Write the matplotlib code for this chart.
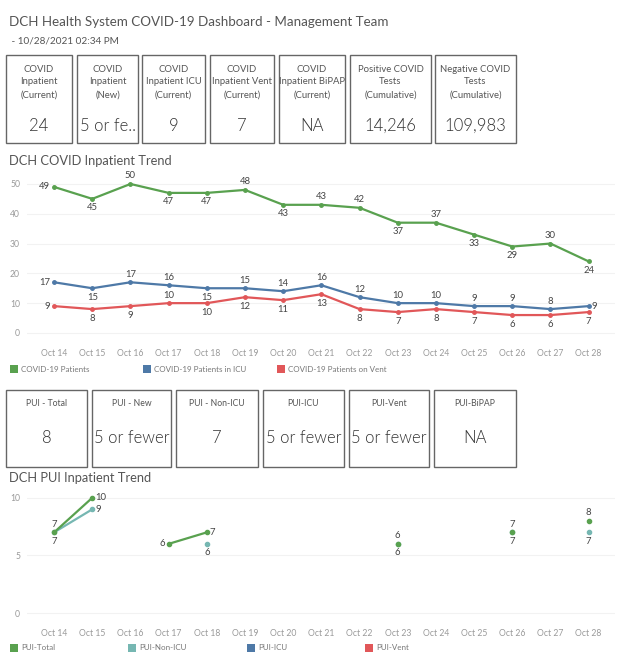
import numpy as np
import matplotlib
matplotlib.use("Agg")
import matplotlib.pyplot as plt
from matplotlib.patches import Rectangle

W, H = 624, 665
plt.rcParams['font.family'] = ['Lato', 'DejaVu Sans']

# ---- data ----
dates = ["Oct 14", "Oct 15", "Oct 16", "Oct 17", "Oct 18", "Oct 19", "Oct 20", "Oct 21",
         "Oct 22", "Oct 23", "Oct 24", "Oct 25", "Oct 26", "Oct 27", "Oct 28"]
covid_patients = [49, 45, 50, 47, 47, 48, 43, 43, 42, 37, 37, 33, 29, 30, 24]
covid_icu = [17, 15, 17, 16, 15, 15, 14, 16, 12, 10, 10, 9, 9, 8, 9]
covid_vent = [9, 8, 9, 10, 10, 12, 11, 13, 8, 7, 8, 7, 6, 6, 7]

pui_total = [7, 10, None, 6, 7, None, None, None, None, 6, None, None, 7, None, 8]
pui_non_icu = [7, 9, None, None, 6, None, None, None, None, 6, None, None, 7, None, 7]
pui_icu = [None] * 15
pui_vent = [None] * 15

kpi1_labels = ["COVID\nInpatient\n(Current)", "COVID\nInpatient\n(New)",
               "COVID\nInpatient ICU\n(Current)", "COVID\nInpatient Vent\n(Current)",
               "COVID\nInpatient BiPAP\n(Current)", "Positive COVID\nTests\n(Cumulative)",
               "Negative COVID\nTests\n(Cumulative)"]
kpi1_values = ["24", "5 or fe..", "9", "7", "NA", "14,246", "109,983"]
kpi2_labels = ["PUI - Total", "PUI - New", "PUI - Non-ICU", "PUI-ICU", "PUI-Vent", "PUI-BiPAP"]
kpi2_values = ["8", "5 or fewer", "7", "5 or fewer", "5 or fewer", "NA"]

# label placement (a=above, b=below, l=left, r=right)
green_pos = list("lbabbabaababbab")
blue_pos = list("lbaabaaaaaaaaar")
red_pos = list("lbbabbbbbbbbbbb")
total_pos = ['a', 'r', None, 'l', 'r', None, None, None, None, 'a', None, None, 'a', None, 'a']
nonicu_pos = ['b', 'r', None, None, 'b', None, None, None, None, 'b', None, None, 'b', None, 'b']

GREEN, BLUE, RED, TEAL = "#59a14f", "#4e79a7", "#e15759", "#76b7b2"
TXT = "#555555"

# ---- figure + pixel canvas ----
fig = plt.figure(figsize=(W / 100, H / 100), dpi=100)
cv = fig.add_axes([0, 0, 1, 1], zorder=0)
cv.set_xlim(0, W); cv.set_ylim(H, 0); cv.axis("off")

cv.text(9, 22, "DCH Health System COVID-19 Dashboard - Management Team", fontsize=9.6,
        color=TXT, va="center")
cv.text(9, 41, " - 10/28/2021 02:34 PM", fontsize=7.2, color=TXT, va="center")

box1_x = [(6, 72), (77, 138), (142, 205), (210, 274), (279, 345), (350, 431), (435, 516)]
for (x0, x1), lab, val in zip(box1_x, kpi1_labels, kpi1_values):
    cv.add_patch(Rectangle((x0, 55), x1 - x0, 88, fill=False, ec="#666666", lw=1.0))
    cv.text((x0 + x1) / 2, 82, lab, ha="center", va="center", fontsize=6.8, color=TXT,
            linespacing=1.55)
    cv.text((x0 + x1) / 2, 126, val, ha="center", va="center", fontsize=12,
            color="#333333", fontweight=300)

box2_x = [(6, 87), (92, 171), (176, 258), (263, 344), (349, 429), (434, 516)]
for (x0, x1), lab, val in zip(box2_x, kpi2_labels, kpi2_values):
    cv.add_patch(Rectangle((x0, 390), x1 - x0, 77, fill=False, ec="#666666", lw=1.0))
    cv.text((x0 + x1) / 2, 404, lab, ha="center", va="center", fontsize=6.2, color=TXT)
    cv.text((x0 + x1) / 2, 438, val, ha="center", va="center", fontsize=12,
            color="#333333", fontweight=300)

cv.text(9, 161, "DCH COVID Inpatient Trend", fontsize=9.3, color=TXT, va="center")
cv.text(9, 478, "DCH PUI Inpatient Trend", fontsize=9.3, color=TXT, va="center")

OFF = {'a': (0, 8, 'center'), 'b': (0, -9, 'center'), 'l': (-4, 0, 'right'), 'r': (3, 0, 'left')}


def annotate(ax, vals, pos):
    for i, (v, p) in enumerate(zip(vals, pos)):
        if v is None or p is None:
            continue
        dx, dy, ha = OFF[p]
        ax.annotate(str(v), (i, v), xytext=(dx, dy), textcoords="offset pixels",
                    ha=ha, va="center", fontsize=6.8, color="#444444")


def style(ax, ticks, ylim):
    ax.set_xlim(-0.71, 14.69)
    ax.set_ylim(*ylim)
    ax.set_yticks(ticks)
    ax.set_xticks(range(len(dates)))
    ax.set_xticklabels(dates)
    ax.tick_params(length=0, labelsize=6.2, labelcolor="#9a9a9a", pad=5)
    ax.tick_params(axis="x", pad=8)
    for s in ax.spines.values():
        s.set_visible(False)
    ax.grid(axis="y", color="#f2f2f2", lw=0.8)
    ax.set_axisbelow(True)
    ax.patch.set_alpha(0)


def px_axes(x0, y0, x1, y1):
    return fig.add_axes([x0 / W, 1 - y1 / H, (x1 - x0) / W, (y1 - y0) / H], zorder=2)


# ---- chart 1 ----
ax1 = px_axes(27, 178, 615, 338)
x = np.arange(len(dates))
for vals, c, pos in [(covid_patients, GREEN, green_pos), (covid_icu, BLUE, blue_pos),
                     (covid_vent, RED, red_pos)]:
    ax1.plot(x, vals, color=c, lw=1.6, marker="o", ms=2.5)
    annotate(ax1, vals, pos)
style(ax1, [0, 10, 20, 30, 40, 50], (-1.7, 52))

# ---- chart 2 ----
ax2 = px_axes(27, 492, 615, 618)


def arr(v):
    return np.array([np.nan if a is None else a for a in v], dtype=float)


ax2.plot(x, arr(pui_icu), color=BLUE, lw=1.6, marker="o", ms=3)
ax2.plot(x, arr(pui_vent), color=RED, lw=1.6, marker="o", ms=3)
ax2.plot(x, arr(pui_non_icu), color=TEAL, lw=1.6, marker="o", ms=3)
ax2.plot(x, arr(pui_total), color=GREEN, lw=1.6, marker="o", ms=3)
annotate(ax2, pui_total, total_pos)
annotate(ax2, pui_non_icu, nonicu_pos)
style(ax2, [0, 5, 10], (-0.43, 10.5))

# ---- legends ----
leg1 = [(10, GREEN, "COVID-19 Patients"), (143, BLUE, "COVID-19 Patients in ICU"),
        (277, RED, "COVID-19 Patients on Vent")]
leg2 = [(10, GREEN, "PUI-Total"), (128, TEAL, "PUI-Non-ICU"), (247, BLUE, "PUI-ICU"),
        (365, RED, "PUI-Vent")]
for y, items in [(369, leg1), (648, leg2)]:
    for lx, c, t in items:
        cv.add_patch(Rectangle((lx, y - 4), 8, 8, color=c, lw=0))
        cv.text(lx + 11, y, t, fontsize=5.8, color="#777777", va="center")

fig.savefig("out.png", dpi=100)
